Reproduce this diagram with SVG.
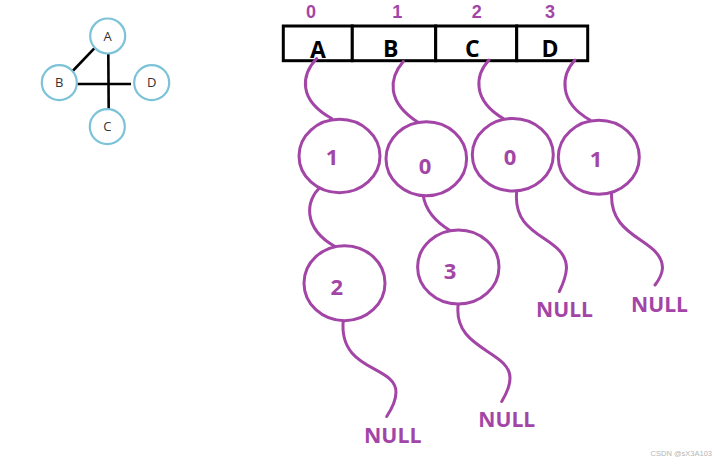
<svg xmlns="http://www.w3.org/2000/svg" width="720" height="463" viewBox="0 0 720 463">
<style>
.gn{fill:#fff;stroke:#7cc3d8;stroke-width:2.2}
.gt{font-family:"Open Sans","Liberation Sans",sans-serif;font-size:13px;fill:#333;text-anchor:middle}
.ge{stroke:#000;stroke-width:2.6;fill:none}
.cell{fill:#fff;stroke:#000;stroke-width:3}
.ct{font-family:"Open Sans","Liberation Sans",sans-serif;font-weight:bold;font-size:23px;fill:#000;text-anchor:middle}
.it{font-family:"Liberation Sans",Arial,sans-serif;font-weight:bold;font-size:18px;fill:#a345a6;text-anchor:middle}
.nd{fill:#fff;stroke:#a345a6;stroke-width:3}
.nt{font-family:"Open Sans","Liberation Sans",sans-serif;font-weight:bold;font-size:22px;fill:#a345a6;text-anchor:middle}
.null{font-family:"Open Sans","Liberation Sans",sans-serif;font-weight:bold;font-size:22px;fill:#a345a6}
.lk{fill:none;stroke:#a345a6;stroke-width:3;stroke-linecap:round}
</style>
<rect width="720" height="463" fill="#fff"/>
<g id="small-graph">
<g id="graph-edges">
<line class="ge" x1="72.7" y1="71" x2="94.3" y2="48.3"/>
<line class="ge" x1="108.3" y1="53" x2="108.7" y2="110"/>
<line class="ge" x1="77.3" y1="84" x2="131" y2="84"/>
</g>
<g id="gA"><circle class="gn" cx="107.7" cy="36" r="17.5"/><text class="gt" x="107.7" y="40.5">A</text></g>
<g id="gB"><circle class="gn" cx="59.3" cy="82.7" r="17.5"/><text class="gt" x="59.3" y="87.2">B</text></g>
<g id="gD"><circle class="gn" cx="151.7" cy="82.7" r="17.5"/><text class="gt" x="151.7" y="87.2">D</text></g>
<g id="gC"><circle class="gn" cx="107.3" cy="126.7" r="17.5"/><text class="gt" x="107.3" y="131.2">C</text></g>
</g>
<g id="array">
<text class="it" x="311" y="18">0</text>
<text class="it" x="397.3" y="18">1</text>
<text class="it" x="476.7" y="18">2</text>
<text class="it" x="550" y="18">3</text>
<g id="cellA"><rect class="cell" x="283.3" y="26" width="69" height="34.7"/><text class="ct" x="318" y="57.5">A</text></g>
<g id="cellB"><rect class="cell" x="352.3" y="26" width="83.4" height="34.7"/><text class="ct" x="390.7" y="57">B</text></g>
<g id="cellC"><rect class="cell" x="435.7" y="26" width="81" height="34.7"/><text class="ct" x="472.3" y="57">C</text></g>
<g id="cellD"><rect class="cell" x="516.7" y="26" width="71" height="34.7"/><text class="ct" x="550" y="57">D</text></g>
</g>
<g id="connectors">
<path class="lk" d="M316.7,58.5 C301,75 298,100 331.7,118.5"/>
<path class="lk" d="M403.3,61.5 C389,78 386,102 418.3,122.5"/>
<path class="lk" d="M489,60 C475,75 472,100 503.3,118.5"/>
<path class="lk" d="M575,60 C561,75 558,102 590,120"/>
<path class="lk" d="M320,187.5 C306,200 302,228 335,246.5"/>
<path class="lk" d="M423.3,196 C426,212 436,222 450,230.5"/>
<path class="lk" d="M516.7,191.5 C512,240 566,235 566.5,268 C566,278 562,286 559.3,291.5"/>
<path class="lk" d="M611.7,191.5 C608,240 662,238 662.5,268 C662,276 658,281 655,285"/>
<path class="lk" d="M343.3,320 C338,372 396,365 396,392 C396,402 391,410 386.7,416.5"/>
<path class="lk" d="M458.3,303.5 C452,350 510,350 510,378 C510,388 505,396 501.7,401.5"/>
</g>
<g id="n1"><ellipse class="nd" cx="339.5" cy="156" rx="40.5" ry="36.7"/><text class="nt" x="332" y="164.5">1</text></g>
<g id="n0b"><ellipse class="nd" cx="426.3" cy="158.8" rx="40.3" ry="37"/><text class="nt" x="425" y="174">0</text></g>
<g id="n0c"><ellipse class="nd" cx="512.8" cy="154.7" rx="40.5" ry="36.3"/><text class="nt" x="510" y="164.5">0</text></g>
<g id="n1d"><ellipse class="nd" cx="598.8" cy="157.2" rx="40.5" ry="37"/><text class="nt" x="596" y="167">1</text></g>
<g id="n2"><ellipse class="nd" cx="344.5" cy="283.2" rx="40.5" ry="37.5"/><text class="nt" x="336.7" y="294.5">2</text></g>
<g id="n3"><ellipse class="nd" cx="458.3" cy="267" rx="40.7" ry="37"/><text class="nt" x="450" y="279">3</text></g>
<g id="nulls">
<text class="null" x="536" y="317.3" textLength="57" lengthAdjust="spacingAndGlyphs">NULL</text>
<text class="null" x="631" y="312.3" textLength="57" lengthAdjust="spacingAndGlyphs">NULL</text>
<text class="null" x="364" y="443.3" textLength="57.5" lengthAdjust="spacingAndGlyphs">NULL</text>
<text class="null" x="478.3" y="427.3" textLength="57" lengthAdjust="spacingAndGlyphs">NULL</text>
</g>
<text x="712" y="456" font-family="Liberation Sans, Arial, sans-serif" font-size="7.5" fill="#b5b5b5" text-anchor="end">CSDN @sX3A103</text>
</svg>
